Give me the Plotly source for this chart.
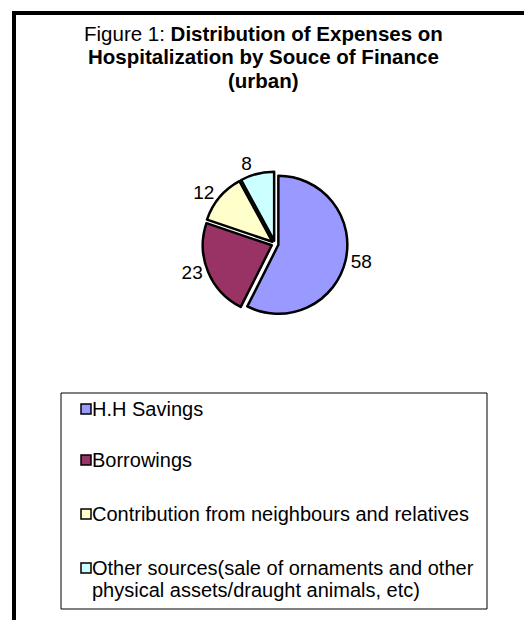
import plotly.graph_objects as go

W, H = 524, 620

categories = [
    "H.H Savings",
    "Borrowings",
    "Contribution from neighbours and relatives",
    "Other sources(sale of ornaments and other<br>physical assets/draught animals, etc)",
]
values = [58, 23, 12, 8]
colors = ["#9999FF", "#993366", "#FFFFCC", "#CCFFFF"]
title_lines = [
    "Figure 1: <b>Distribution of Expenses on</b>",
    "<b>Hospitalization by Souce of Finance</b>",
    "<b>(urban)</b>",
]

FONT = "Liberation Sans, Arial, Helvetica, sans-serif"

def px(x):
    return x / W

def py(y):
    return 1 - y / H

# pie geometry (pixels)
cx, cy, r, pull = 275, 244, 69, 0.05
half = r * (1 + pull)

fig = go.Figure()
fig.add_trace(go.Pie(
    labels=[c.replace("<br>", " ") for c in categories],
    values=values,
    sort=False,
    direction="clockwise",
    rotation=0,
    pull=[pull] * len(values),
    marker=dict(colors=colors, line=dict(color="black", width=2.5)),
    textinfo="value",
    textposition="outside",
    textfont=dict(family=FONT, size=19, color="black"),
    showlegend=False,
    hoverinfo="label+value",
    domain=dict(x=[px(cx - half), px(cx + half)], y=[py(cy + half), py(cy - half)]),
))

shapes = []
annotations = []

# outer frame (left and top thick lines)
shapes.append(dict(type="line", xref="paper", yref="paper", x0=px(14), x1=px(14), y0=py(11), y1=py(H + 5),
                   line=dict(color="black", width=4)))
shapes.append(dict(type="line", xref="paper", yref="paper", x0=px(12), x1=px(W + 5), y0=py(13), y1=py(13),
                   line=dict(color="black", width=4)))

# title (one annotation per line for Excel-like line spacing)
title_y = [33, 56.5, 80]
for t, yy in zip(title_lines, title_y):
    annotations.append(dict(
        xref="paper", yref="paper", x=px(263), y=py(yy), xanchor="center", yanchor="middle",
        text=t, showarrow=False, font=dict(family=FONT, size=20.5, color="black"),
    ))

# legend box
lx0, lx1, ly0, ly1 = 61, 487, 393, 609
shapes.append(dict(type="rect", xref="paper", yref="paper", x0=px(lx0), x1=px(lx1), y0=py(ly0), y1=py(ly1),
                   line=dict(color="black", width=1), fillcolor="white", layer="below"))
row_y = [409, 460, 514, 568]
line_gap = 22
sq = 10
for cat, col, yy in zip(categories, colors, row_y):
    shapes.append(dict(type="rect", xref="paper", yref="paper",
                       x0=px(81), x1=px(81 + sq), y0=py(yy - sq / 2), y1=py(yy + sq / 2),
                       line=dict(color="black", width=1.5), fillcolor=col))
    for k, part in enumerate(cat.split("<br>")):
        annotations.append(dict(
            xref="paper", yref="paper", x=px(90), y=py(yy + k * line_gap), xanchor="left", yanchor="middle",
            text=part, showarrow=False, align="left",
            font=dict(family=FONT, size=20, color="black"),
        ))

fig.update_layout(
    width=W, height=H,
    margin=dict(l=0, r=0, t=0, b=0),
    paper_bgcolor="white", plot_bgcolor="white",
    shapes=shapes, annotations=annotations,
    showlegend=False,
)

fig.write_html("out.html")
